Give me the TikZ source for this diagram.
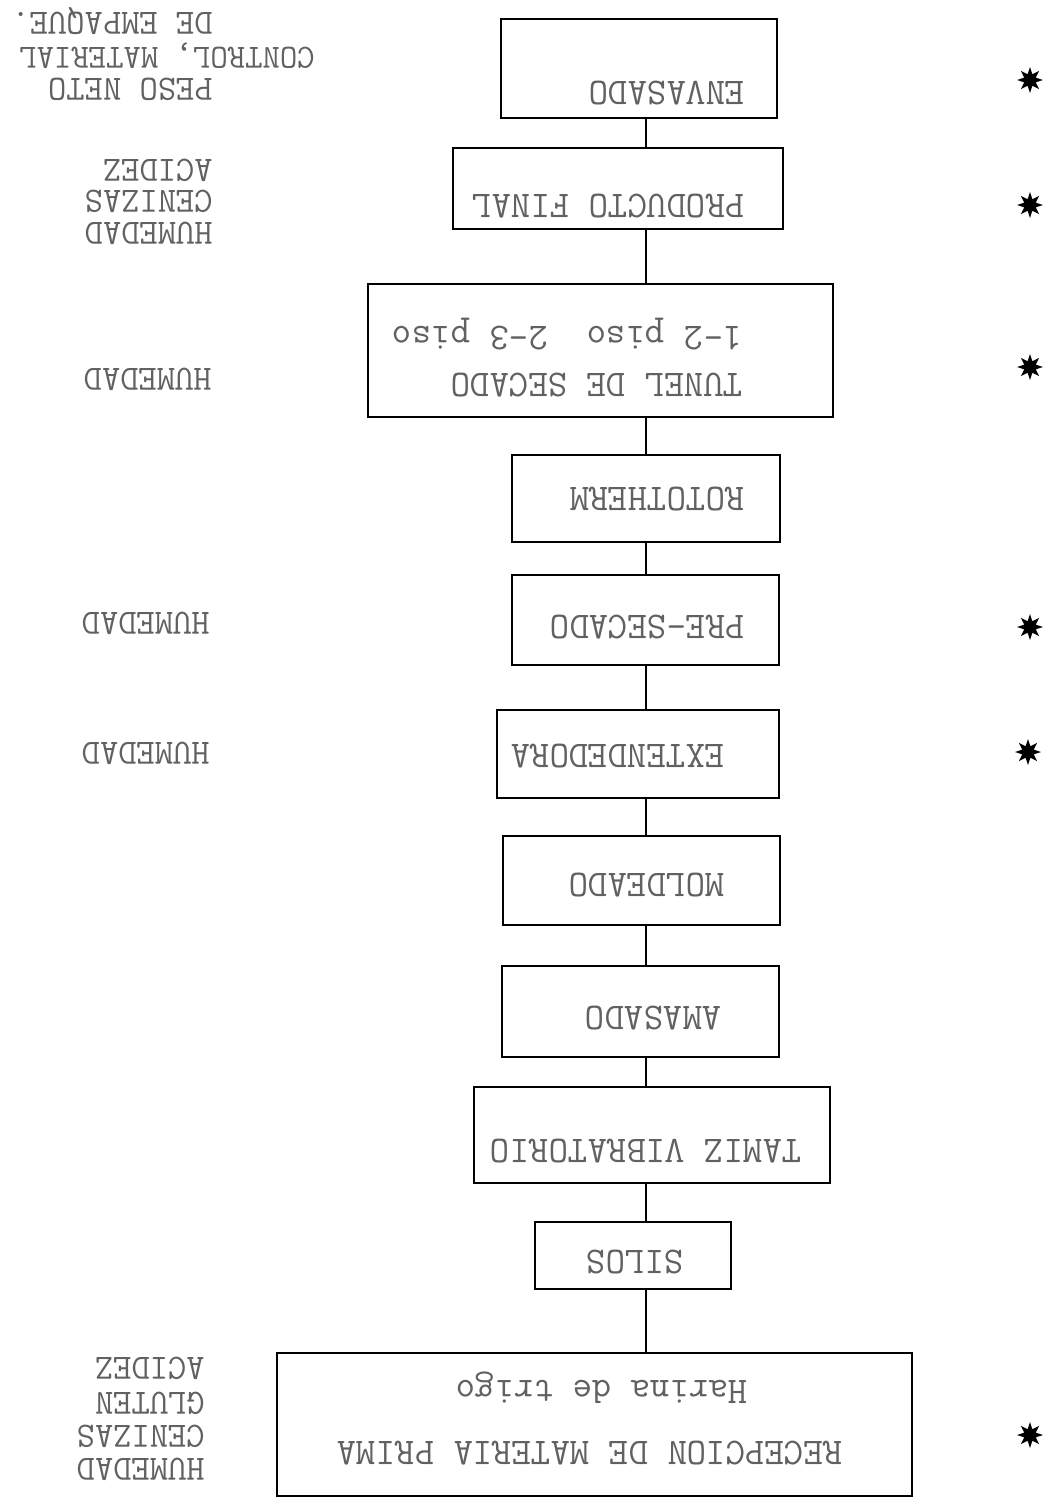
\documentclass[tikz,border=0pt]{standalone}
\usetikzlibrary{fit,shapes.geometric}
\tikzset{etapa/.style={draw=black,line width=1.6pt,inner sep=0}}
\tikzset{linea/.style={draw=black,line width=1.6pt}}
\tikzset{
  texto/.style={
    rotate=180,
    inner sep=0,
    text=black!62,
    font=\ttfamily\fontsize{21.5}{24}\selectfont,
    text height=13pt,
    text depth=0pt
  }
}
\tikzset{
  control/.style={
    texto,
    font=\ttfamily\fontsize{20.2}{22}\selectfont,
    text height=12pt
  }
}
\tikzset{
  asterisco/.style={
    star,
    star points=8,
    star point ratio=2.1,
    fill=black,
    inner sep=0,
    minimum size=0.52cm
  }
}

\begin{document}
\begin{tikzpicture}[x=0.02cm,y=-0.02cm]
\useasboundingbox (0,0) rectangle (1048,1498);

% cajas del diagrama
\node[etapa,fit={(501,19) (777,118)}] (envasado) {};
\node[etapa,fit={(453,148) (783,229)}] (producto) {};
\node[etapa,fit={(368,284) (833,417)}] (tunel) {};
\node[etapa,fit={(512,455) (780,542)}] (rototherm) {};
\node[etapa,fit={(512,575) (779,665)}] (presecado) {};
\node[etapa,fit={(497,710) (779,798)}] (extendedora) {};
\node[etapa,fit={(503,836) (780,925)}] (moldeado) {};
\node[etapa,fit={(502,966) (779,1057)}] (amasado) {};
\node[etapa,fit={(474,1087) (830,1183)}] (tamiz) {};
\node[etapa,fit={(535,1222) (731,1289)}] (silos) {};
\node[etapa,fit={(277,1353) (912,1496)}] (recepcion) {};

\coordinate (eje) at (646,0);

\draw[linea] (envasado.south -| eje) -- (producto.north -| eje);
\draw[linea] (producto.south -| eje) -- (tunel.north -| eje);
\draw[linea] (tunel.south -| eje) -- (rototherm.north -| eje);
\draw[linea] (rototherm.south -| eje) -- (presecado.north -| eje);
\draw[linea] (presecado.south -| eje) -- (extendedora.north -| eje);
\draw[linea] (extendedora.south -| eje) -- (moldeado.north -| eje);
\draw[linea] (moldeado.south -| eje) -- (amasado.north -| eje);
\draw[linea] (amasado.south -| eje) -- (tamiz.north -| eje);
\draw[linea] (tamiz.south -| eje) -- (silos.north -| eje);
\draw[linea] (silos.south -| eje) -- (recepcion.north -| eje);

% textos (girados)
\node[texto,anchor=west] (t-envasado) at (745,93) {ENVASADO};
\node[texto,anchor=west] (t-producto) at (745,206) {PRODUCTO FINAL};
\node[texto,anchor=west] (t-tunel) at (743,385) {TUNEL DE SECADO};
\node[texto,anchor=west] (t-pisos) at (743,338) {1-2 piso\ \ 2-3 piso};
\node[texto,anchor=west] (t-rototherm) at (745,499) {ROTOTHERM};
\node[texto,anchor=west] (t-presecado) at (745,627) {PRE-SECADO};
\node[texto,anchor=west] (t-extendedora) at (725,756) {EXTENDEDORA};
\node[texto,anchor=west] (t-moldeado) at (725,885) {MOLDEADO};
\node[texto,anchor=west] (t-amasado) at (722,1018) {AMASADO};
\node[texto,anchor=west] (t-tamiz) at (802,1151) {TAMIZ VIBRATORIO};
\node[texto,anchor=west] (t-silos) at (684,1262) {SILOS};
\node[texto,anchor=west] (t-harina) at (748,1392) {Harina de trigo};
\node[texto,anchor=west] (t-recepcion) at (843,1453) {RECEPCION DE MATERIA PRIMA};

% controles
\node[control,anchor=west] (c-peso) at (213,89) {PESO NETO};
\node[control,anchor=west,font=\ttfamily\fontsize{19.2}{22}\selectfont] (c-control) at (315,58) {CONTROL, MATERIAL};
\node[control,anchor=west] (c-empaque) at (213,23) {DE EMPAQUE.};

\node[control,anchor=west] (c-humedad1) at (213,233) {HUMEDAD};
\node[control,anchor=west] (c-cenizas1) at (213,201) {CENIZAS};
\node[control,anchor=west] (c-acidez1) at (213,170) {ACIDEZ};

\node[control,anchor=west] (c-humedad2) at (212,379) {HUMEDAD};
\node[control,anchor=west] (c-humedad3) at (210,623) {HUMEDAD};
\node[control,anchor=west] (c-humedad4) at (210,753) {HUMEDAD};

\node[control,anchor=west] (c-humedad5) at (205,1469) {HUMEDAD};
\node[control,anchor=west] (c-cenizas5) at (205,1436) {CENIZAS};
\node[control,anchor=west] (c-gluten5) at (205,1403) {GLUTEN};
\node[control,anchor=west] (c-acidez5) at (205,1368) {ACIDEZ};

% asteriscos
\node[asterisco] (a1) at (1030,80) {};
\node[asterisco] (a2) at (1030,205) {};
\node[asterisco] (a3) at (1030,367) {};
\node[asterisco] (a4) at (1030,627) {};
\node[asterisco] (a5) at (1028,752) {};
\node[asterisco] (a6) at (1030,1435) {};

\end{tikzpicture}
\end{document}
